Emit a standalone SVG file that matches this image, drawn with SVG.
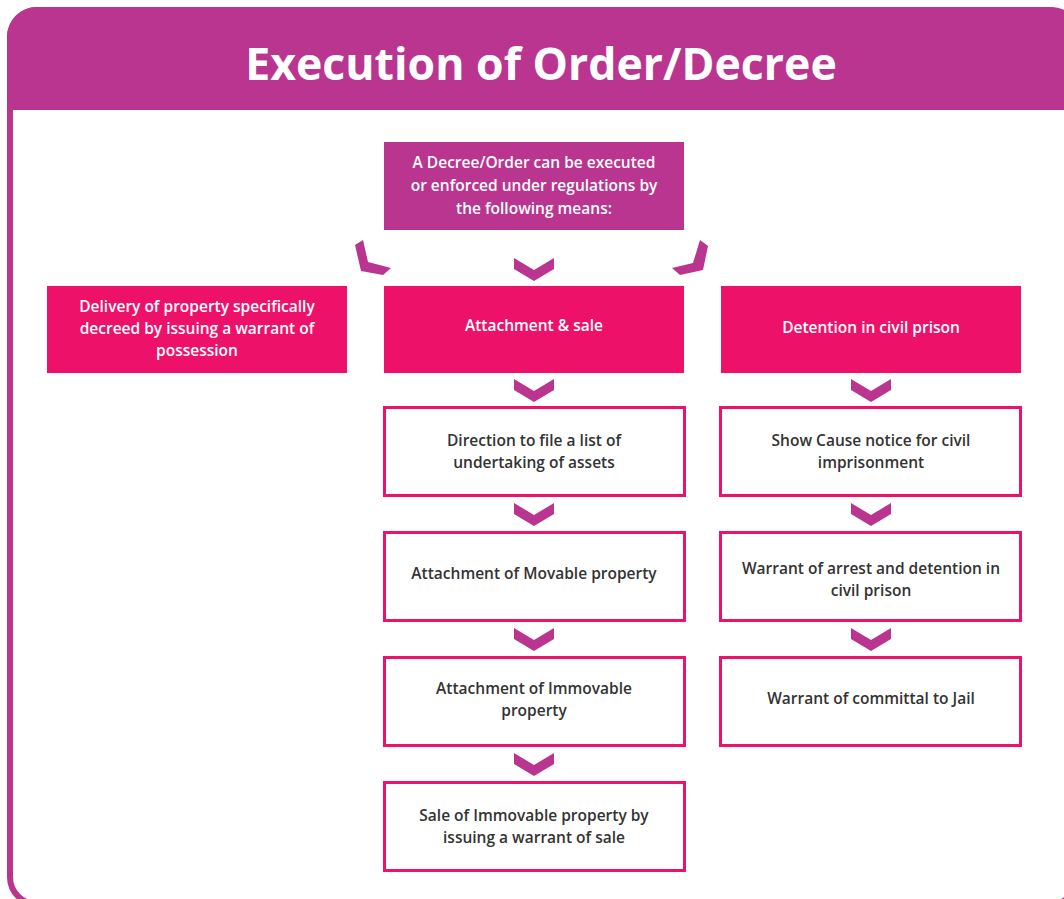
<svg xmlns="http://www.w3.org/2000/svg" width="1064" height="899" viewBox="0 0 1064 899">
<defs>
<style>
.frame{fill:none;stroke:#B9358F;stroke-width:6}
.hdr{fill:#B9358F}
.fp{fill:#B9358F}
.fk{fill:#EE1169}
.ob{fill:#fff;stroke:#EE1169;stroke-width:3}
.chev{fill:#B9358F}
text{font-family:"Open Sans","Liberation Sans",sans-serif;font-weight:600;font-size:15.5px;text-anchor:middle}
.w{fill:#fff}
.d{fill:#333}
.title{font-size:44.6px;font-weight:700;fill:#fff}
</style>
<polygon id="chv" points="-20,0 0,12 20,0 20,11 0,23 -20,11"/>
</defs>
<rect class="frame" x="10" y="10" width="1068" height="894" rx="27"/>
<path class="hdr" d="M7,110 V37 A30,30 0 0 1 37,7 H1048 A30,30 0 0 1 1078,37 V110 Z"/>
<text class="title" x="541" y="80">Execution of Order/Decree</text>

<g id="connectors" class="chev">
<polygon points="363,240 368,262 391,268 383,275 361,271 355,245"/>
<polygon points="700,240 708,246 703,270 680,275 672,268 693,263"/>
<use href="#chv" x="534" y="258"/>
<use href="#chv" x="534" y="379"/>
<use href="#chv" x="534" y="503"/>
<use href="#chv" x="534" y="628"/>
<use href="#chv" x="534" y="753"/>
<use href="#chv" x="871" y="379"/>
<use href="#chv" x="871" y="503"/>
<use href="#chv" x="871" y="628"/>
</g>

<g id="top">
<rect class="fp" x="384" y="142" width="300" height="88"/>
<text class="w" x="534" y="168">A Decree/Order can be executed</text>
<text class="w" x="534" y="191">or enforced under regulations by</text>
<text class="w" x="534" y="214">the following means:</text>
</g>
<g id="delivery">
<rect class="fk" x="47" y="286" width="300" height="87"/>
<text class="w" x="197" y="312">Delivery of property specifically</text>
<text class="w" x="197" y="334">decreed by issuing a warrant of</text>
<text class="w" x="197" y="356">possession</text>
</g>
<g id="attachment">
<rect class="fk" x="384" y="286" width="300" height="87"/>
<text class="w" x="534" y="331">Attachment &amp; sale</text>
</g>
<g id="detention">
<rect class="fk" x="721" y="286" width="300" height="87"/>
<text class="w" x="871" y="333">Detention in civil prison</text>
</g>

<g id="direction">
<rect class="ob" x="384.5" y="407.5" width="300" height="88"/>
<text class="d" x="534" y="446">Direction to file a list of</text>
<text class="d" x="534" y="468">undertaking of assets</text>
</g>
<g id="movable">
<rect class="ob" x="384.5" y="532.5" width="300" height="88"/>
<text class="d" x="534" y="579">Attachment of Movable property</text>
</g>
<g id="immovable">
<rect class="ob" x="384.5" y="657.5" width="300" height="88"/>
<text class="d" x="534" y="694">Attachment of Immovable</text>
<text class="d" x="534" y="716">property</text>
</g>
<g id="sale">
<rect class="ob" x="384.5" y="782.5" width="300" height="88"/>
<text class="d" x="534" y="821">Sale of Immovable property by</text>
<text class="d" x="534" y="843">issuing a warrant of sale</text>
</g>

<g id="showcause">
<rect class="ob" x="720.5" y="407.5" width="300" height="88"/>
<text class="d" x="871" y="446">Show Cause notice for civil</text>
<text class="d" x="871" y="468">imprisonment</text>
</g>
<g id="warrant">
<rect class="ob" x="720.5" y="532.5" width="300" height="88"/>
<text class="d" x="871" y="574">Warrant of arrest and detention in</text>
<text class="d" x="871" y="596">civil prison</text>
</g>
<g id="committal">
<rect class="ob" x="720.5" y="657.5" width="300" height="88"/>
<text class="d" x="871" y="704">Warrant of committal to Jail</text>
</g>
</svg>
